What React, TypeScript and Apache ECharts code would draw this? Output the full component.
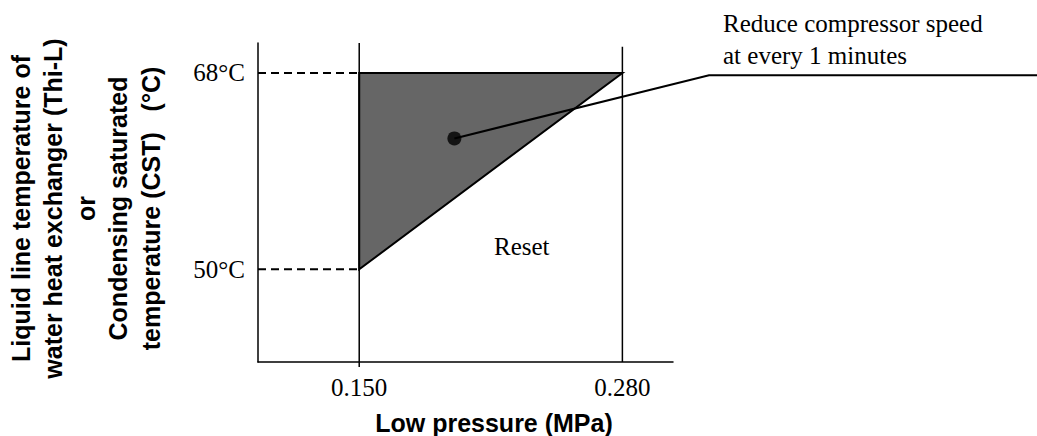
import React, { useEffect, useRef } from "react";
import * as echarts from "echarts";

// Axis extents and tick values
const xRange = [0.1, 0.305];
const yRange = [41.5, 70.75];
const xTickValues = [0.15, 0.28];
const yTickValues = [50, 68];

// Shaded region (reduce compressor speed zone)
const triangle: number[][] = [
  [0.15, 68],
  [0.28, 68],
  [0.15, 50],
];
// Boundary lines
const lineLow: number[][] = [
  [0.15, 70.75],
  [0.15, 41.04],
];
const lineHigh: number[][] = [
  [0.28, 70.4],
  [0.28, 41.5],
];
const dash68: number[][] = [
  [0.1, 68],
  [0.28, 68],
];
const dash50: number[][] = [
  [0.1, 50],
  [0.15, 50],
];
// Callout dot and leader line
const dot: number[][] = [[0.197, 62]];
const leader: number[][] = [
  [0.197, 62],
  [0.3228, 67.8],
  [0.49, 67.8],
];

const annotationLines = ["Reduce compressor speed", "at every 1 minutes"];
const resetLabel = "Reset";
const xTitle = "Low pressure (MPa)";
const yTitleLines = [
  "Liquid line temperature of",
  "water heat exchanger (Thi-L)",
  "or",
  "Condensing saturated",
  "temperature (CST)   (°C)",
];

const SERIF = "'Liberation Serif', 'Times New Roman', serif";
const SANS = "'Liberation Sans', Arial, Helvetica, sans-serif";

export default function App() {
  const ref = useRef<HTMLDivElement>(null);
  useEffect(() => {
    if (!ref.current) return;
    const chart = echarts.init(ref.current, null, { renderer: "svg" });
    const polylineSeries = (pts: number[][], width: number, dash: any, z: number) => ({
      type: "custom",
      data: [pts[0]],
      clip: false,
      z,
      silent: true,
      renderItem: (_params: any, api: any) => ({
        type: "polyline",
        shape: { points: pts.map((p) => api.coord(p)) },
        style: {
          fill: "none",
          stroke: "#000",
          lineWidth: width,
          lineDash: dash,
        },
      }),
    });
    chart.setOption({
      animation: false,
      backgroundColor: "#fff",
      grid: {
        left: 258,
        right: 364,
        top: 43,
        bottom: 74,
        containLabel: false,
        outerBoundsMode: "none",
      },
      xAxis: {
        type: "value",
        min: xRange[0],
        max: xRange[1],
        splitLine: { show: false },
        axisLine: { show: true, onZero: false, lineStyle: { color: "#000", width: 1.5 } },
        axisTick: { show: false },
        axisLabel: {
          customValues: xTickValues,
          formatter: (v: number) => v.toFixed(3),
          fontFamily: SERIF,
          fontSize: 25,
          color: "#000",
          margin: 13,
        },
        name: xTitle,
        nameLocation: "middle",
        nameGap: 48,
        nameTextStyle: {
          fontFamily: SANS,
          fontWeight: "bold",
          fontSize: 25,
          color: "#000",
          lineHeight: 25,
          padding: [0, 0, 0, 57],
        },
      },
      yAxis: {
        type: "value",
        min: yRange[0],
        max: yRange[1],
        splitLine: { show: false },
        axisLine: { show: true, onZero: false, lineStyle: { color: "#000", width: 1.5 } },
        axisTick: { show: false },
        axisLabel: {
          customValues: yTickValues,
          formatter: (v: number) => v + "°C",
          fontFamily: SERIF,
          fontSize: 25,
          color: "#000",
          margin: 13,
          padding: [4, 0, 0, 0],
        },
        name: yTitleLines.join("\n"),
        nameLocation: "middle",
        nameRotate: 90,
        nameGap: 91,
        nameTextStyle: {
          fontFamily: SANS,
          fontWeight: "bold",
          fontSize: 25,
          color: "#000",
          lineHeight: 32.5,
          align: "center",
          padding: [0, 12, 0, 0],
        },
      },
      series: [
        {
          type: "custom",
          data: [triangle[0]],
          clip: false,
          z: 1,
          silent: true,
          renderItem: (_params: any, api: any) => ({
            type: "polygon",
            shape: { points: triangle.map((p) => api.coord(p)) },
            style: { fill: "#666666", stroke: "#000", lineWidth: 2 },
          }),
        },
        polylineSeries(lineLow, 1.5, null, 3),
        polylineSeries(lineHigh, 1.5, null, 3),
        polylineSeries(dash68, 2, [8, 5], 2),
        polylineSeries(dash50, 2, [8, 5], 2),
        polylineSeries(leader, 2, null, 4),
        {
          type: "scatter",
          data: dot,
          symbol: "circle",
          symbolSize: 14,
          itemStyle: { color: "#000" },
          z: 5,
        },
      ],
      graphic: [
        {
          type: "text",
          left: 723,
          top: 11,
          style: {
            text: annotationLines[0],
            font: `25px ${SERIF}`,
            fill: "#000",
          },
        },
        {
          type: "text",
          left: 723,
          top: 43,
          style: {
            text: annotationLines[1],
            font: `25px ${SERIF}`,
            fill: "#000",
          },
        },
        {
          type: "text",
          left: 494,
          top: 234,
          style: {
            text: resetLabel,
            font: `25px ${SERIF}`,
            fill: "#000",
          },
        },
      ],
    });
    return () => chart.dispose();
  }, []);
  return (
    <div
      ref={ref}
      style={{ position: "fixed", left: 0, top: 0, width: 1037, height: 436 }}
    />
  );
}
